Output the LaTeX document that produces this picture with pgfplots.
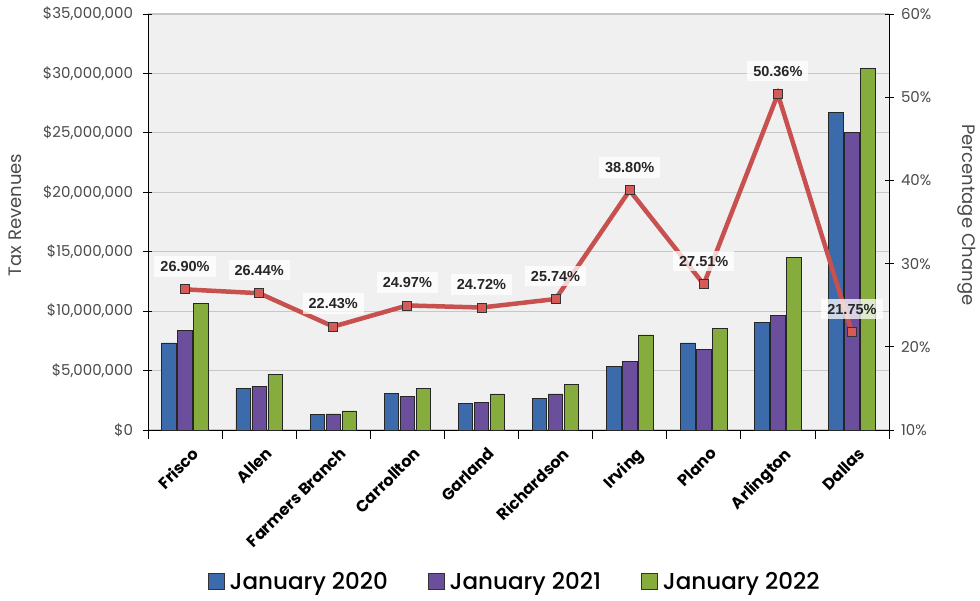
\documentclass[border=0pt]{standalone}
\usepackage{pgfplots}
\pgfplotsset{compat=1.18}
\usepackage{fontspec}
\setmainfont{Poppins}
\newfontfamily\arialb{Liberation Sans}
\newfontfamily\legfont{Poppins Medium}
\definecolor{bblue}{HTML}{3B6BAA}
\definecolor{bpurp}{HTML}{6B4E9C}
\definecolor{bgreen}{HTML}{86AC3E}
\definecolor{lred}{HTML}{C8504F}
\definecolor{mred}{HTML}{D65A57}
\definecolor{txtgray}{HTML}{4A4A4A}
\pgfplotstableread{
x y20 y21 y22
0 7.32 8.41 10.68
1 3.53 3.70 4.71
2 1.33 1.35 1.60
3 3.11 2.86 3.53
4 2.27 2.35 3.03
5 2.69 3.03 3.87
6 5.38 5.80 8.00
7 7.32 6.81 8.58
8 9.08 9.67 14.55
9 26.75 25.06 30.45
}\revtable
\pgfplotstableread{
x p
0 26.90
1 26.44
2 22.43
3 24.97
4 24.72
5 25.74
6 38.80
7 27.51
8 50.36
9 21.75
}\pcttable
\begin{document}
\begin{tikzpicture}[x=1pt,y=1pt]
\useasboundingbox (0,0) rectangle (980,600);
\begin{axis}[
  at={(148pt,170pt)}, anchor=south west,
  scale only axis, width=741pt, height=416pt,
  xmin=-0.5, xmax=9.5, ymin=0, ymax=35,
  axis x line*=bottom, axis y line*=left,
  axis line style={black, line width=0.8pt},
  axis background/.style={fill=black!6},
  ymajorgrids, grid style={black!22, line width=1.2pt},
  ytick={0,5,...,35},
  yticklabels={\$0,{\$5,000,000},{\$10,000,000},{\$15,000,000},{\$20,000,000},{\$25,000,000},{\$30,000,000},{\$35,000,000}},
  y tick label style={font=\fontsize{15}{17}\selectfont, text=txtgray, xshift=-7pt},
  xtick={-0.5,0.5,...,9.5},
  x tick label as interval,
  xticklabels={Frisco,Allen,Farmers Branch,Carrollton,Garland,Richardson,Irving,Plano,Arlington,Dallas},
  x tick label style={font=\fontsize{16}{18}\selectfont\bfseries, rotate=45, anchor=north east, inner sep=1pt, yshift=-8pt, xshift=0pt},
  tick align=center, major tick length=9pt,
  tick style={black, line width=0.8pt},
  ylabel={Tax Revenues},
  ylabel style={at={(axis description cs:-0.1795,0.517)}, anchor=center, font=\fontsize{18}{20}\selectfont, text=txtgray},
  ybar=1.5pt, bar width=14.5pt,
  legend columns=3,
  legend style={at={(axis description cs:0.495,-0.365)}, anchor=center, draw=none, fill=none,
    font=\legfont\fontsize{23}{26}\selectfont,
    /tikz/every even column/.append style={column sep=38pt},
    /tikz/every odd column/.append style={column sep=3pt}},
  legend image code/.code={\draw[#1, draw=black!80] (0pt,-8pt) rectangle (16pt,8pt);},
]
\addplot[draw=black!85, line width=0.7pt, fill=bblue] table[x=x,y=y20]{\revtable};
\addplot[draw=black!85, line width=0.7pt, fill=bpurp] table[x=x,y=y21]{\revtable};
\addplot[draw=black!85, line width=0.7pt, fill=bgreen] table[x=x,y=y22]{\revtable};
\legend{January 2020,January 2021,January 2022}
\end{axis}
\begin{axis}[
  at={(148pt,170pt)}, anchor=south west,
  scale only axis, width=741pt, height=416pt,
  xmin=-0.5, xmax=9.5, ymin=10, ymax=60,
  hide x axis,
  axis y line*=right,
  axis line style={black, line width=0.8pt},
  ytick={10,20,...,60},
  yticklabel={\pgfmathprintnumber{\tick}\%},
  /pgf/number format/assume math mode=true,
  y tick label style={font=\fontsize{15}{17}\selectfont, text=txtgray, xshift=4pt},
  tick align=center, major tick length=9pt,
  tick style={black, line width=0.8pt},
  ylabel={Percentage Change},
  ylabel style={at={(axis description cs:1.105,0.517)}, anchor=center, rotate=180, font=\fontsize{18}{20}\selectfont, text=txtgray},
]
\addplot[lred, line width=4.5pt, mark=square*, mark size=4.5pt,
  mark options={fill=mred, draw=black!80, line width=0.8pt},
  nodes near coords={\pgfmathprintnumber[fixed,fixed zerofill,precision=2]{\pgfplotspointmeta}\%},
  every node near coord/.append style={font=\arialb\bfseries\fontsize{14.5}{16}\selectfont, text=black!85, fill=white, fill opacity=0.75, text opacity=1, inner xsep=6pt, inner ysep=5pt, anchor=center, yshift=23pt}
] table[x=x,y=p]{\pcttable};
\end{axis}
\end{tikzpicture}
\end{document}
